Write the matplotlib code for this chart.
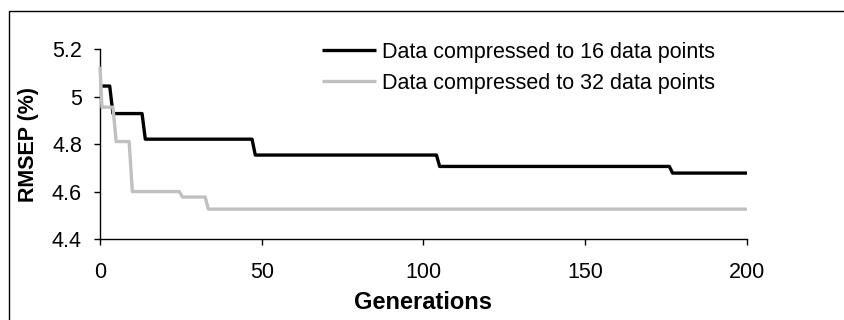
import matplotlib
matplotlib.use("Agg")
import matplotlib.pyplot as plt
from matplotlib.patches import Rectangle

plt.rcParams['font.family'] = ['Liberation Sans', 'DejaVu Sans']

# Series 1: data compressed to 16 data points (breakpoints of step curve)
gen16 = [0, 3, 4, 13, 14, 47, 48, 104, 105, 176, 177, 200]
rmsep16 = [5.045, 5.045, 4.929, 4.929, 4.821, 4.821, 4.754, 4.754, 4.706, 4.706, 4.678, 4.678]

# Series 2: data compressed to 32 data points
gen32 = [0, 0.6, 4, 5, 9, 10, 24.5, 25.5, 32.5, 33.5, 200]
rmsep32 = [5.127, 4.956, 4.956, 4.811, 4.811, 4.600, 4.600, 4.577, 4.577, 4.526, 4.526]

labels = ["Data compressed to 16 data points", "Data compressed to 32 data points"]
xticks = [0, 50, 100, 150, 200]
yticks = [4.4, 4.6, 4.8, 5.0, 5.2]
yticklabels = ["4.4", "4.6", "4.8", "5", "5.2"]

W, H = 845, 320
fig = plt.figure(figsize=(W / 100, H / 100), dpi=100)
ax = fig.add_axes([100 / W, 1 - 239 / H, 647 / W, (239 - 49.3) / H])

ax.plot(gen16, rmsep16, color='black', lw=2.4, label=labels[0], solid_capstyle='butt',
        zorder=3, clip_on=False)
ax.plot(gen32, rmsep32, color='#c0c0c0', lw=2.4, label=labels[1], solid_capstyle='butt',
        zorder=3, clip_on=False)

ax.set_xlim(0, 200)
ax.set_ylim(4.4, 5.2)
ax.set_xticks(xticks)
ax.set_yticks(yticks)
ax.set_yticklabels(yticklabels)
ax.tick_params(labelsize=15.5, length=4.5, width=1, direction='out')
ax.tick_params(axis='y', pad=8.5)
ax.tick_params(axis='x', pad=12)
for s in ['top', 'right']:
    ax.spines[s].set_visible(False)
for s in ['left', 'bottom']:
    ax.spines[s].set_linewidth(1)

ax.set_xlabel("Generations", fontsize=17, fontweight='bold', labelpad=5.5)
ax.set_ylabel("RMSEP (%)", fontsize=15.5, fontweight='bold', labelpad=9)

leg = fig.legend(loc='upper left', bbox_to_anchor=(322 / W, 1 - 42 / H), frameon=False,
                 fontsize=15.5, handlelength=2.5, handletextpad=0.3, borderpad=0,
                 borderaxespad=0, labelspacing=0.45)

fig.patches.append(Rectangle((9 / W, -0.1), 1.2, 1 - 11 / H + 0.1, transform=fig.transFigure,
                             fill=False, edgecolor='black', lw=1))

fig.savefig("out.png", dpi=100)
